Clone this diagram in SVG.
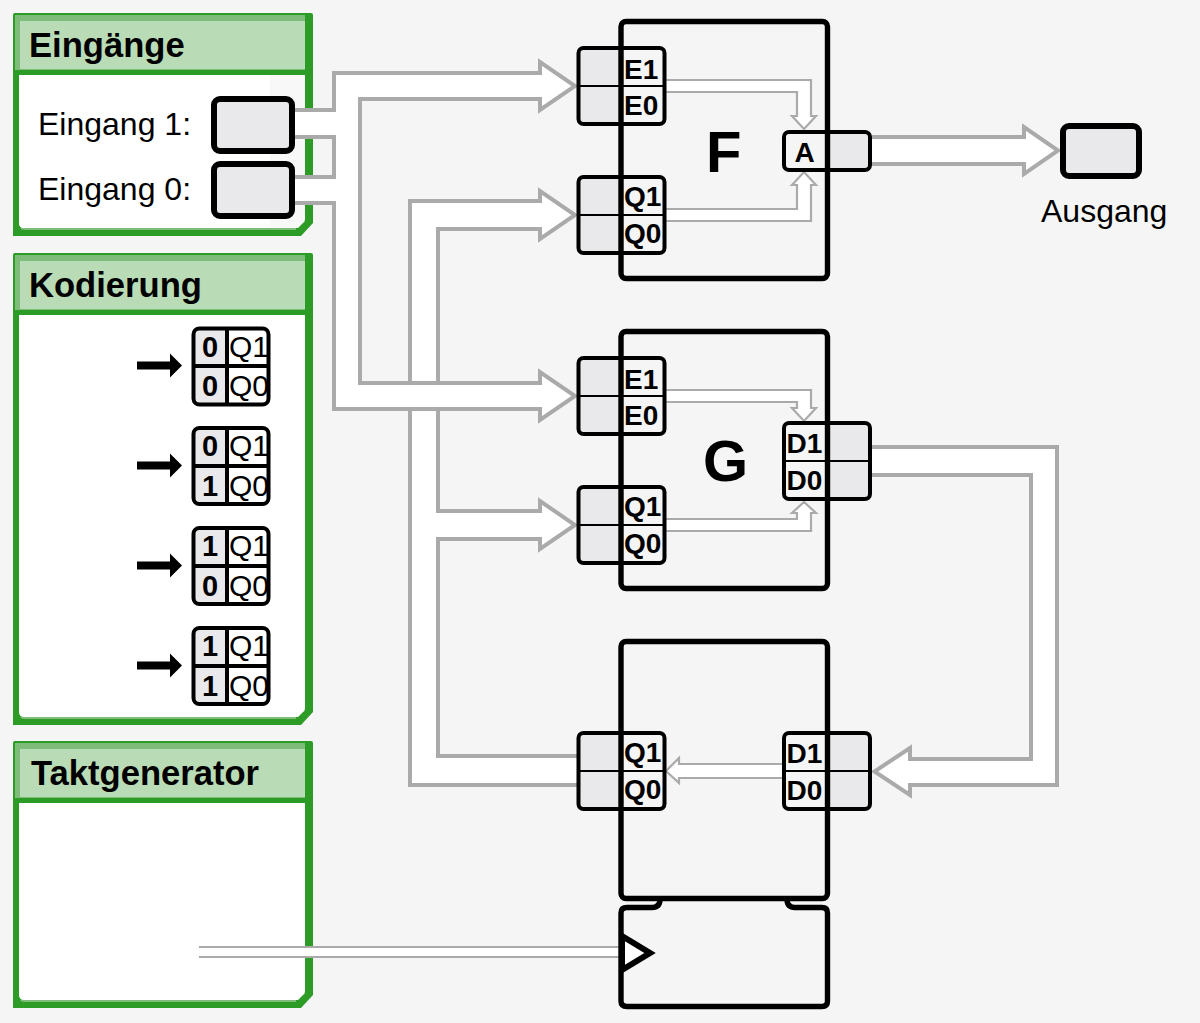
<svg xmlns="http://www.w3.org/2000/svg" width="1200" height="1023" viewBox="0 0 1200 1023">
<style>
.t{font-family:"Liberation Sans",Arial,sans-serif;fill:#000}
.title{font-size:34.6px;font-weight:bold}
.lab{font-size:32px}
.pl{font-size:28px;font-weight:bold}
.big{font-size:58px;font-weight:bold}
.pipe{fill:#fff;stroke:#aaa;stroke-width:4}
.thin{fill:#fff;stroke:#aaa;stroke-width:2.2}
.green{fill:#2c9c27}
.mid{fill:#7dbc79}
.hdr{fill:#b9dcb6}
.port{fill:#f5f5f5;stroke:none}
.grey{fill:#e9e9eb}
.out{fill:none;stroke:#000;stroke-width:4}
.div{stroke:#000;stroke-width:2.2}
.blk{fill:none;stroke:#000;stroke-width:5.4}
.enc{fill:#fff;stroke:none}
.eo{fill:none;stroke:#000;stroke-width:4}
.ed{stroke:#000;stroke-width:4}
.en{font-size:29px;font-weight:bold;text-anchor:middle}
.eq{font-size:30px}
.box{fill:#e9e9eb;stroke:#000;stroke-width:6}
</style>
<defs>
<g id="port"><rect class="port" x="578.5" y="0" width="86" height="76" rx="5"/><path class="grey" d="M583.5 0H621V76H583.5Q578.5 76 578.5 71V5Q578.5 0 583.5 0Z"/><rect class="out" x="578.5" y="0" width="86" height="76" rx="5"/><line class="div" x1="578" x2="665" y1="38" y2="38"/></g>
<g id="dport"><rect class="port" x="784" y="0" width="86" height="76" rx="5"/><path class="grey" d="M827 0H865Q870 0 870 5V71Q870 76 865 76H827Z"/><rect class="out" x="784" y="0" width="86" height="76" rx="5"/><line class="div" x1="784" x2="870" y1="38" y2="38"/></g>
<polygon id="barrow" points="137,-4 170,-4 170,-12 182,0 170,12 170,4 137,4" fill="#000"/>
</defs>
<rect width="1200" height="1023" fill="#f5f5f5"/>

<g id="panel-eingaenge">
<path class="green" d="M15 13H311Q313 13 313 15V223L301 236H13V15Q13 13 15 13Z"/>
<rect class="mid" x="15" y="15" width="290" height="55"/>
<rect class="hdr" x="20" y="21" width="285" height="48"/>
<path fill="#f8f8f8" d="M19 75H305V219Q305 222 303 223L298 228H24Q19 228 19 223Z"/>
<path fill="#fff" d="M19 75H270V228H24Q19 228 19 223Z"/>
<path class="mid" d="M20 228H296V230H24Q21 230 20 228Z"/>
<text class="t title" x="29" y="57">Eingänge</text>
<text class="t lab" x="38" y="135">Eingang 1:</text>
<text class="t lab" x="38" y="200">Eingang 0:</text>
</g>
<g id="panel-kodierung">
<path class="green" d="M15 253H311Q313 253 313 255V712L301 725H13V255Q13 253 15 253Z"/>
<rect class="mid" x="15" y="255" width="290" height="55"/>
<rect class="hdr" x="20" y="261" width="285" height="48"/>
<path fill="#fff" d="M19 315H305V708Q305 711 303 712L298 717H24Q19 717 19 712Z"/>
<path class="mid" d="M20 717H296V719H24Q21 719 20 717Z"/>
<text class="t title" x="29" y="297">Kodierung</text>
</g>
<g id="panel-takt">
<path class="green" d="M15 741H311Q313 741 313 743V995L301 1008H13V743Q13 741 15 741Z"/>
<rect class="mid" x="15" y="743" width="290" height="55"/>
<rect class="hdr" x="20" y="749" width="285" height="48"/>
<path fill="#fff" d="M19 803H305V991Q305 994 303 995L298 1000H24Q19 1000 19 995Z"/>
<path class="mid" d="M20 1000H296V1002H24Q21 1002 20 1000Z"/>
<text class="t title" x="31" y="785">Taktgenerator</text>
</g>

<g id="connectors">
<path class="pipe" d="M577 756H438V539H540V549L575 525L540 501V511H438V229H540V239L575 215L540 191V201H410V785H577"/>
<path d="M295 110H334V73H540V62L575 86L540 110V99H360V383H540V372L575 396L540 420V409H334V203H295V177H334V137H295Z" fill="#fff" stroke="none"/>
<path d="M295 110H334V73H540V62L575 86L540 110V99H360V383H540V372L575 396L540 420V409H334V203H295M295 177H334V137H295" fill="none" stroke="#aaa" stroke-width="4"/>
<path class="pipe" d="M871 137H1024V127L1058 150.500L1024 174V164H871"/>
<path class="pipe" d="M871 447H1057V785H910V795L874.500 771.500L910 748V759H1031V475H871"/>
<path class="thin" d="M665 80H811V116H816L804 129L792 116H797V92H665"/>
<path class="thin" d="M665 209H797V185H792L804 172L816 185H811V221H665"/>
<path class="thin" d="M665 390H811V408H816L804 421L792 408H797V402H665"/>
<path class="thin" d="M665 519H797V513H792L804 502L816 513H811V531H665"/>
<path class="thin" d="M783 764H679V758L666 771L679 783V778H783"/>
<path d="M199 947H620V957H199" fill="#fff" stroke="#aaa" stroke-width="2.2"/>
</g>

<g id="input-1"><rect class="box" x="214" y="99" width="78" height="52" rx="6"/></g>
<g id="input-0"><rect class="box" x="214" y="164" width="78" height="52" rx="6"/></g>
<g id="output"><rect class="box" x="1063" y="126" width="76" height="50" rx="6"/><text class="t lab" x="1041" y="222">Ausgang</text></g>

<g id="block-f">
<use href="#port" y="48"/><use href="#port" y="177"/>
<rect class="port" x="784" y="132" width="86" height="38" rx="5"/>
<path class="grey" d="M827 132H865Q870 132 870 137V165Q870 170 865 170H827Z"/>
<rect class="out" x="784" y="132" width="86" height="38" rx="5"/>
<rect class="blk" x="621" y="21.500" width="206.500" height="257" rx="5"/>
<text class="t pl" x="624" y="79">E1</text><text class="t pl" x="624" y="115">E0</text>
<text class="t pl" x="624" y="206">Q1</text><text class="t pl" x="624" y="243">Q0</text>
<text class="t big" x="706" y="172">F</text>
<text class="t" x="794.500" y="162" font-size="28" font-weight="bold">A</text>
</g>
<g id="block-g">
<use href="#port" y="358"/><use href="#port" y="487"/><use href="#dport" y="423"/>
<rect class="blk" x="621" y="331.500" width="206.500" height="257" rx="5"/>
<text class="t pl" x="624" y="389">E1</text><text class="t pl" x="624" y="425">E0</text>
<text class="t pl" x="624" y="516">Q1</text><text class="t pl" x="624" y="553">Q0</text>
<text class="t pl" x="786.500" y="453">D1</text><text class="t pl" x="786.500" y="490">D0</text>
<text class="t big" x="703" y="481">G</text>
</g>
<g id="block-r">
<use href="#port" y="733"/><use href="#dport" y="733"/>
<rect class="blk" x="621" y="641.500" width="206.500" height="257" rx="5"/>
<text class="t pl" x="624" y="762">Q1</text><text class="t pl" x="624" y="799">Q0</text>
<text class="t pl" x="786.500" y="763">D1</text><text class="t pl" x="786.500" y="800">D0</text>
</g>
<g id="clock">
<path class="blk" d="M660 899Q660 907.500 652 907.500H627Q621 907.500 621 913V1001Q621 1006.500 627 1006.500H822Q827.500 1006.500 827.500 1001V913Q827.500 907.500 822 907.500H795Q787 907.500 787 899"/>
<polygon points="622,936 650,953 622,970" fill="#fff" stroke="#000" stroke-width="6"/>
</g>

<g id="code-00"><use href="#barrow" y="365.500"/>
<rect class="enc" x="193.500" y="328.500" width="75" height="76" rx="6"/><path class="grey" d="M199.500 328.500H227V404.500H199.500Q193.500 404.500 193.500 398.500V334.500Q193.500 328.500 199.500 328.500Z"/><rect class="eo" x="193.500" y="328.500" width="75" height="76" rx="6"/><line class="ed" x1="227" x2="227" y1="328" y2="405"/><line class="ed" x1="193" x2="269" y1="366" y2="366"/>
<text class="t en" x="210" y="357">0</text><text class="t en" x="210" y="396">0</text><text class="t eq" x="229" y="357">Q1</text><text class="t eq" x="229" y="396">Q0</text></g>
<g id="code-01"><use href="#barrow" y="465.500"/>
<rect class="enc" x="193.500" y="428" width="75" height="76" rx="6"/><path class="grey" d="M199.500 428H227V504H199.500Q193.500 504 193.500 498V434Q193.500 428 199.500 428Z"/><rect class="eo" x="193.500" y="428" width="75" height="76" rx="6"/><line class="ed" x1="227" x2="227" y1="428" y2="504"/><line class="ed" x1="193" x2="269" y1="466" y2="466"/>
<text class="t en" x="210" y="456">0</text><text class="t en" x="210" y="496">1</text><text class="t eq" x="229" y="456">Q1</text><text class="t eq" x="229" y="496">Q0</text></g>
<g id="code-10"><use href="#barrow" y="565.500"/>
<rect class="enc" x="193.500" y="528" width="75" height="76" rx="6"/><path class="grey" d="M199.500 528H227V604H199.500Q193.500 604 193.500 598V534Q193.500 528 199.500 528Z"/><rect class="eo" x="193.500" y="528" width="75" height="76" rx="6"/><line class="ed" x1="227" x2="227" y1="528" y2="604"/><line class="ed" x1="193" x2="269" y1="566" y2="566"/>
<text class="t en" x="210" y="556">1</text><text class="t en" x="210" y="596">0</text><text class="t eq" x="229" y="556">Q1</text><text class="t eq" x="229" y="596">Q0</text></g>
<g id="code-11"><use href="#barrow" y="665.500"/>
<rect class="enc" x="193.500" y="628" width="75" height="76" rx="6"/><path class="grey" d="M199.500 628H227V704H199.500Q193.500 704 193.500 698V634Q193.500 628 199.500 628Z"/><rect class="eo" x="193.500" y="628" width="75" height="76" rx="6"/><line class="ed" x1="227" x2="227" y1="628" y2="704"/><line class="ed" x1="193" x2="269" y1="666" y2="666"/>
<text class="t en" x="210" y="656">1</text><text class="t en" x="210" y="696">1</text><text class="t eq" x="229" y="656">Q1</text><text class="t eq" x="229" y="696">Q0</text></g>
</svg>
